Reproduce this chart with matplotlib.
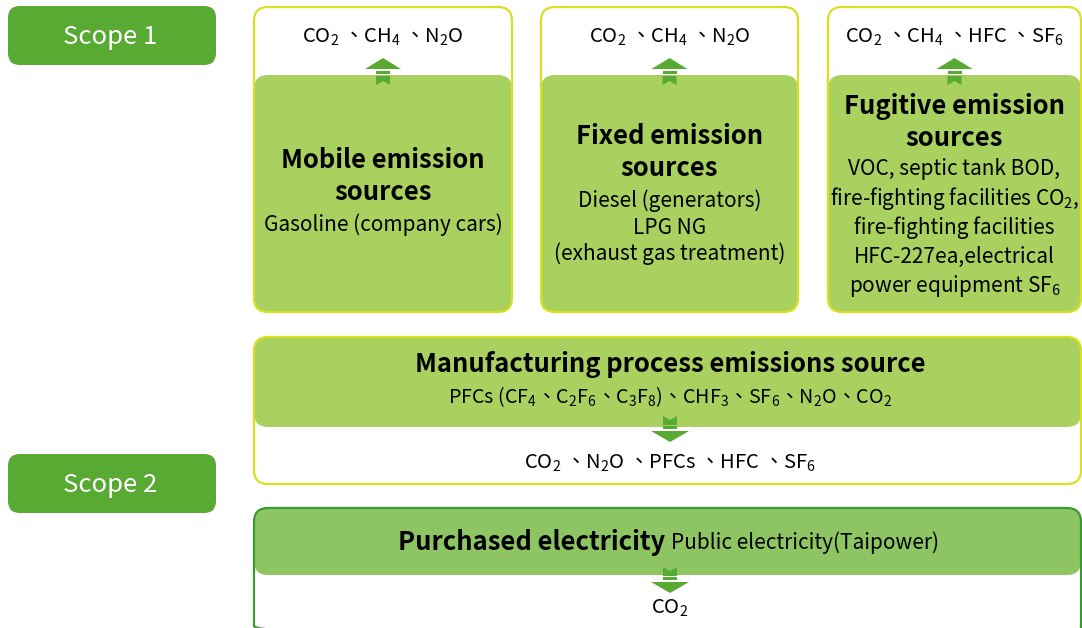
import matplotlib
matplotlib.use("Agg")
import matplotlib.pyplot as plt
from matplotlib.patches import FancyBboxPatch, Polygon, Rectangle

plt.rcParams['font.family'] = ['Noto Sans CJK TC', 'DejaVu Sans']
plt.rcParams['mathtext.fontset'] = 'custom'
plt.rcParams['mathtext.rm'] = 'Noto Sans CJK TC'
plt.rcParams['mathtext.default'] = 'regular'

# texts of the diagram
scope_labels = ["Scope 1", "Scope 2"]
top_gases = [r"CO$_2$ 、CH$_4$ 、N$_2$O",
             r"CO$_2$ 、CH$_4$ 、N$_2$O",
             r"CO$_2$ 、CH$_4$ 、HFC 、SF$_6$"]
source_titles = [["Mobile emission", "sources"],
                 ["Fixed emission", "sources"],
                 ["Fugitive emission", "sources"]]
source_details = [["Gasoline (company cars)"],
                  ["Diesel (generators)", "LPG NG", "(exhaust gas treatment)"],
                  ["VOC, septic tank BOD,",
                   r"fire-fighting facilities CO$_2$,",
                   "fire-fighting facilities",
                   "HFC-227ea,electrical",
                   r"power equipment SF$_6$"]]
process_title = "Manufacturing process emissions source"
process_detail = r"PFCs (CF$_4$、C$_2$F$_6$、C$_3$F$_8$)、CHF$_3$、SF$_6$、N$_2$O、CO$_2$"
process_gases = r"CO$_2$ 、N$_2$O 、PFCs 、HFC 、SF$_6$"
elec_title = "Purchased electricity"
elec_detail = "Public electricity(Taipower)"
elec_gases = r"CO$_2$"

dark = "#59aa32"
light = "#a9d15f"
elec_green = "#8dc563"
yellow = "#d9e021"
border_green = "#3c9a35"

TITLE = 18.4
BODY = 15
GAS = 14.6

fig = plt.figure(figsize=(10.82, 6.28), dpi=100)
ax = fig.add_axes([0, 0, 1, 1])
ax.set_xlim(0, 1082)
ax.set_ylim(628, 0)
ax.axis('off')


def rbox(x0, y0, x1, y1, fc, ec='none', lw=0, r=12, z=1):
    p = FancyBboxPatch((x0, y0), x1 - x0, y1 - y0,
                       boxstyle="round,pad=0,rounding_size=%d" % r,
                       fc=fc, ec=ec, lw=lw, zorder=z)
    ax.add_patch(p)


def up_arrow(cx, y):
    ax.add_patch(Polygon([(cx - 18, y + 11), (cx + 18, y + 11), (cx, y)], fc=dark, ec='none', zorder=5))
    ax.add_patch(Rectangle((cx - 7, y + 13), 14, 3, fc=dark, ec='none', zorder=5))
    ax.add_patch(Polygon([(cx - 7, y + 18), (cx + 7, y + 18), (cx + 7, y + 27),
                          (cx, y + 23), (cx - 7, y + 27)], fc=dark, ec='none', zorder=5))


def down_arrow(cx, y):
    ax.add_patch(Polygon([(cx - 7, y), (cx, y + 4), (cx + 7, y), (cx + 7, y + 9),
                          (cx - 7, y + 9)], fc=dark, ec='none', zorder=5))
    ax.add_patch(Rectangle((cx - 7, y + 10), 14, 3, fc=dark, ec='none', zorder=5))
    ax.add_patch(Polygon([(cx - 19, y + 15), (cx + 19, y + 15), (cx, y + 26)], fc=dark, ec='none', zorder=5))


# scope labels
for lab, yy in zip(scope_labels, [6, 454]):
    rbox(8, yy, 216, yy + 59, dark, r=12)
    ax.text(110, yy + 31, lab, color='white', fontsize=18.5, ha='center', va='center', zorder=6)

# three scope 1 source boxes
box_x = [(254, 512), (541, 798), (828, 1081)]
title_y = [160, 136, 107]
detail_y = [[225], [201, 228, 254], [169, 198, 228, 257, 286]]
for i, (x0, x1) in enumerate(box_x):
    cx = (x0 + x1) / 2
    rbox(x0, 7, x1, 312, 'white', r=14, z=1)
    rbox(x0, 75, x1, 312, light, r=14, z=2)
    rbox(x0, 7, x1, 312, 'none', ec=yellow, lw=1.6, r=14, z=3)
    ax.text(cx, 37, top_gases[i], fontsize=GAS, ha='center', va='center', zorder=6)
    up_arrow(cx, 58)
    for k, t in enumerate(source_titles[i]):
        ax.text(cx, title_y[i] + 32 * k, t, fontsize=TITLE, fontweight='semibold',
                ha='center', va='center', zorder=6)
    for t, yy in zip(source_details[i], detail_y[i]):
        ax.text(cx, yy, t, fontsize=BODY, ha='center', va='center', zorder=6)

# manufacturing process box
rbox(254, 337, 1081, 484, 'white', r=14, z=1)
rbox(254, 337, 1081, 427, light, r=14, z=2)
rbox(254, 337, 1081, 484, 'none', ec=yellow, lw=1.6, r=14, z=3)
ax.text(670, 364, process_title, fontsize=TITLE, fontweight='semibold', ha='center', va='center', zorder=6)
ax.text(670, 397, process_detail, fontsize=14.2, ha='center', va='center', zorder=6)
down_arrow(670, 416)
ax.text(670, 463, process_gases, fontsize=GAS, ha='center', va='center', zorder=6)

# purchased electricity box
rbox(254, 508, 1081, 640, 'white', r=14, z=1)
rbox(254, 508, 1081, 575, elec_green, r=14, z=2)
rbox(254, 508, 1081, 640, 'none', ec=border_green, lw=1.6, r=14, z=3)
ax.text(665, 542, elec_title, fontsize=TITLE, fontweight='semibold', ha='right', va='center', zorder=6)
ax.text(671, 543, elec_detail, fontsize=BODY, ha='left', va='center', zorder=6)
down_arrow(670, 567)
ax.text(670, 608, elec_gases, fontsize=GAS, ha='center', va='center', zorder=6)

fig.savefig("out.png", dpi=100)
